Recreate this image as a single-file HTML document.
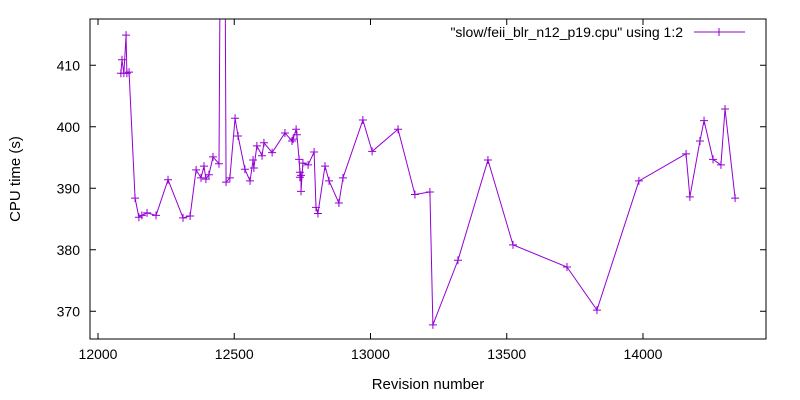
<!DOCTYPE html>
<html><head><meta charset="utf-8"><style>
body{margin:0;background:#fff}
svg{display:block;font-family:"Liberation Sans",sans-serif}
</style></head><body>
<svg id="chart" width="800" height="400" viewBox="0 0 800 400">
<rect width="800" height="400" fill="#fff"/>
<defs><clipPath id="clip"><rect x="90" y="19" width="676" height="320"/></clipPath></defs>
<g id="axes"></g>
<g id="series" clip-path="url(#clip)"></g>
<rect x="90" y="19" width="676" height="320" fill="none" stroke="#000" stroke-width="1"/>
<text x="20" y="179" transform="rotate(-90 20 179)" text-anchor="middle" font-size="15">CPU time (s)</text>
<text x="428" y="389" text-anchor="middle" font-size="15">Revision number</text>
<g>
<text x="683" y="37" text-anchor="end" font-size="14">"slow/feii_blr_n12_p19.cpu" using 1:2</text>
<line x1="694" y1="32" x2="745" y2="32" stroke="#9400d3" stroke-width="1"/>
<path d="M715,32h8M719,28v8" stroke="#9400d3" stroke-width="1"/>
</g>
</svg>
<script>
const revisions=[12084,12088,12095,12103,12106,12114,12136,12150,12161,12180,12213,12257,12312,12338,12360,12378,12389,12396,12407,12422,12444,12450,12465,12470,12484,12503,12514,12539,12558,12569,12572,12583,12602,12609,12639,12686,12712,12716,12727,12730,12738,12741,12741,12745,12745,12752,12771,12793,12800,12807,12833,12848,12884,12899,12972,13006,13101,13163,13218,13229,13321,13431,13523,13721,13831,13985,14158,14172,14209,14224,14257,14286,14301,14338];
const cpuTimes=[408.7,410.9,408.7,414.9,408.7,408.9,388.4,385.3,385.6,386.0,385.6,391.4,385.2,385.5,393.0,391.7,393.6,391.5,392.2,395.1,394.0,440,440,391.0,391.7,401.4,398.5,393.1,391.2,394.6,393.3,396.9,395.3,397.4,395.8,399.0,397.7,398.0,399.6,398.7,394.7,392.6,391.8,392.1,389.5,394.1,393.8,395.9,386.9,385.9,393.6,391.2,387.6,391.7,401.1,396.0,399.6,389.0,389.4,367.8,378.3,394.6,380.8,377.2,370.2,391.2,395.6,388.6,397.7,401.0,394.7,393.8,402.9,388.4];
const xTicks=[12000,12500,13000,13500,14000];
const yTicks=[370,380,390,400,410];
const NS="http://www.w3.org/2000/svg";
const L=90,R=766,T=19,B=339;
const xs=v=>98+(v-12000)*0.2725;
const ys=v=>65.3+(410-v)*6.15;
const axes=document.getElementById('axes'),series=document.getElementById('series');
function mk(tag,attrs,parent){const e=document.createElementNS(NS,tag);for(const k in attrs)e.setAttribute(k,attrs[k]);parent.appendChild(e);return e;}
xTicks.forEach(t=>{const x=xs(t);
 const p=mk('path',{d:`M${x},${B}v-6M${x},${T}v6`,stroke:'#000','stroke-width':1},axes);
 
 
 const tx=mk('text',{x:x,y:B+20,'text-anchor':'middle','font-size':14},axes);tx.textContent=t;
 
 
});
yTicks.forEach(t=>{const y=ys(t);
 const p=mk('path',{d:`M${L},${y}h6M${R},${y}h-6`,stroke:'#000','stroke-width':1},axes);
 
 
 const tx=mk('text',{x:L-10,y:y+5,'text-anchor':'end','font-size':14},axes);tx.textContent=t;
 
 
});
const pts=revisions.map((r,i)=>[xs(r),ys(cpuTimes[i])]);
const line=mk('polyline',{points:pts.map(p=>p.join(',')).join(' '),fill:'none',stroke:'#9400d3','stroke-width':1},series);


pts.forEach(p=>{
 const m=mk('path',{d:`M${p[0]-4},${p[1]}h8M${p[0]},${p[1]-4}v8`,stroke:'#9400d3','stroke-width':1},series);
 
 
});
</script>
</body></html>
